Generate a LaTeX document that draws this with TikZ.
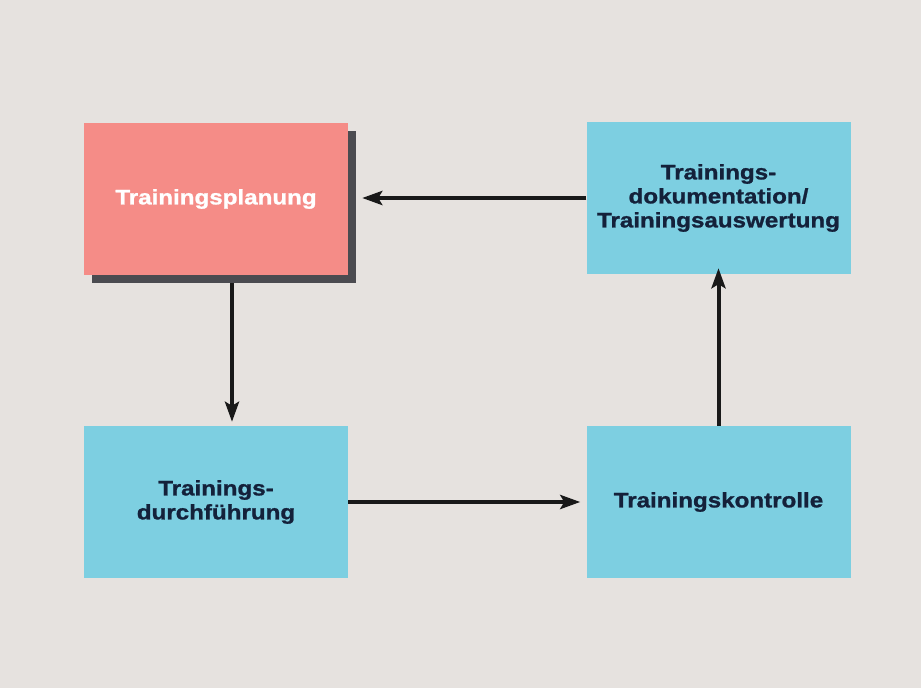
\documentclass[tikz,border=0pt]{standalone}
\usepackage{fontspec}
\setmainfont[FakeStretch=1.15,FakeBold=1.2]{Liberation Sans}
\usetikzlibrary{arrows.meta,shadows}
\definecolor{bg}{HTML}{E6E2DF}
\definecolor{pinkbox}{HTML}{F58C87}
\definecolor{bluebox}{HTML}{7DCFE1}
\definecolor{navy}{HTML}{14213A}
\definecolor{shadowc}{HTML}{4B4B50}
\tikzset{
  box/.style={rectangle, minimum width=264pt, minimum height=152pt, inner sep=0pt,
    align=center, font=\fontsize{21}{24}\selectfont\bfseries},
  bluestyle/.style={box, fill=bluebox, text=navy},
  pinkstyle/.style={box, fill=pinkbox, text=white,
    drop shadow={shadow xshift=8pt, shadow yshift=-8pt, fill=shadowc, opacity=1}},
  arr/.style={line width=4pt, draw=black!90, -{Stealth[length=20pt,width=14pt,inset=4pt]}}
}
\begin{document}
\begin{tikzpicture}[x=1pt,y=-1pt]
\fill[bg] (0,0) rectangle (921,688);
\useasboundingbox (0,0) rectangle (921,688);
\node[pinkstyle] (plan) at (216,199) {Trainingsplanung};
\node[bluestyle] (doku) at (718.5,198) {Trainings-\\dokumentation/\\Trainingsauswertung};
\node[bluestyle] (durch) at (216,502) {Trainings-\\durchführung};
\node[bluestyle] (kontr) at (718.5,502) {Trainingskontrolle};
\draw[arr] (doku.west) -- ([xshift=14pt]plan.east |- doku.west);
\draw[arr] ([xshift=16pt,yshift=-8pt]plan.south) -- ([xshift=16pt,yshift=4pt]durch.north);
\draw[arr] (durch.east) -- ([xshift=-6pt]kontr.west);
\draw[arr] (kontr.north) -- ([yshift=6pt]doku.south);
\end{tikzpicture}
\end{document}
